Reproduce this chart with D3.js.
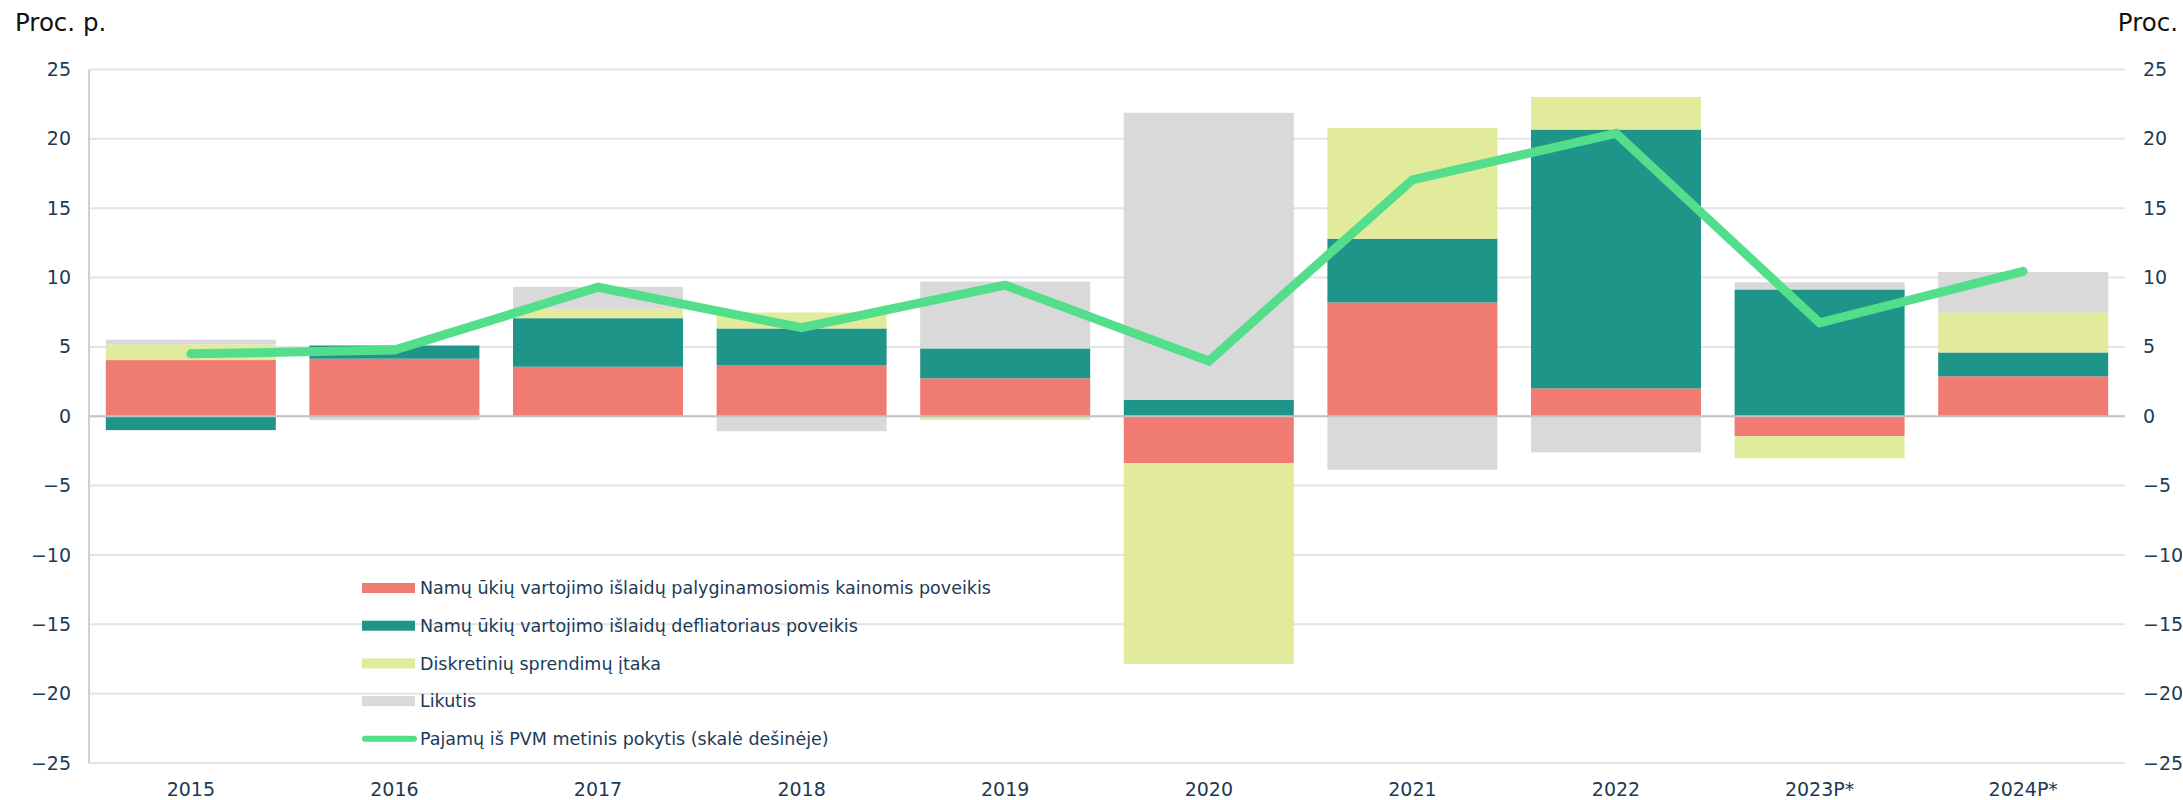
<!DOCTYPE html>
<html>
<head>
<meta charset="utf-8">
<script src="https://cdn.jsdelivr.net/npm/d3@7/dist/d3.min.js"></script>
<style>
  body { margin: 0; background: #fff; }
  text { font-family: "DejaVu Sans", Verdana, sans-serif; }
</style>
</head>
<body>
<div id="chart"></div>
<script>
// data
const years = ["2015", "2016", "2017", "2018", "2019", "2020", "2021", "2022", "2023P*", "2024P*"];
const realCons = [4.05, 4.15, 3.57, 3.69, 2.73, -3.38, 8.2, 2.01, -1.43, 2.88];
const deflator = [-1.0, 0.95, 3.5, 2.64, 2.16, 1.18, 4.6, 18.66, 9.14, 1.72];
const discretion = [1.13, 0, 0.68, 1.15, -0.26, -14.48, 7.99, 2.35, -1.6, 2.88];
const residual = [0.34, -0.27, 1.58, -1.08, 4.82, 20.7, -3.86, -2.6, 0.52, 2.92];
const vatGrowth = [4.5, 4.77, 9.3, 6.38, 9.45, 3.98, 17.05, 20.4, 6.74, 10.45];
const yTicks = [-25, -20, -15, -10, -5, 0, 5, 10, 15, 20, 25];

const seriesNames = [
  "Namų ūkių vartojimo išlaidų palyginamosiomis kainomis poveikis",
  "Namų ūkių vartojimo išlaidų defliatoriaus poveikis",
  "Diskretinių sprendimų įtaka",
  "Likutis"
];
const lineName = "Pajamų iš PVM metinis pokytis (skalė dešinėje)";
const colors = ["#f07b72", "#1f9488", "#e2eb9c", "#d9d9d9"];
const lineColor = "#52de8a";
const textColor = "#1c3a57";

const W = 2183, H = 800;
const margin = {top: 69.5, right: 58, bottom: 37, left: 89};
const width = W - margin.left - margin.right;
const height = H - margin.top - margin.bottom;

const svg = d3.select("#chart").append("svg")
  .attr("width", W)
  .attr("height", H);

const g = svg.append("g")
  .attr("transform", "translate(" + margin.left + "," + margin.top + ")");

// scales
const x = d3.scaleBand()
  .domain(years)
  .range([0, width])
  .paddingInner(0.165)
  .paddingOuter(0.0825);

const y = d3.scaleLinear().domain([-25, 25]).range([height, 0]);
const yRight = d3.scaleLinear().domain([-25, 25]).range([height, 0]);

// gridlines
g.selectAll(".grid")
  .data(yTicks)
  .enter().append("line")
  .attr("class", "grid")
  .attr("x1", 0)
  .attr("x2", width)
  .attr("y1", d => y(d))
  .attr("y2", d => y(d))
  .attr("stroke", "#e3e3e3")
  .attr("stroke-width", 2);

// stacked bars
const table = years.map((yr, i) => ({
  year: yr, s0: realCons[i], s1: deflator[i], s2: discretion[i], s3: residual[i]
}));
const stack = d3.stack()
  .keys(["s0", "s1", "s2", "s3"])
  .offset(d3.stackOffsetDiverging);
const layers = stack(table);

g.selectAll(".layer")
  .data(layers)
  .enter().append("g")
  .attr("class", "layer")
  .attr("fill", (d, i) => colors[i])
  .selectAll("rect")
  .data(d => d)
  .enter().append("rect")
  .attr("x", d => x(d.data.year))
  .attr("y", d => y(Math.max(d[0], d[1])))
  .attr("width", x.bandwidth())
  .attr("height", d => Math.abs(y(d[0]) - y(d[1])));

// zero line and left axis line
g.append("line")
  .attr("x1", 0).attr("x2", width)
  .attr("y1", y(0)).attr("y2", y(0))
  .attr("stroke", "#c4c4c4").attr("stroke-width", 2);

g.append("line")
  .attr("x1", 0).attr("x2", 0)
  .attr("y1", 0).attr("y2", height)
  .attr("stroke", "#d0d0d0").attr("stroke-width", 2);

// VAT line
const line = d3.line()
  .x((d, i) => x(years[i]) + x.bandwidth() / 2)
  .y(d => yRight(d));

g.append("path")
  .datum(vatGrowth)
  .attr("d", line)
  .attr("fill", "none")
  .attr("stroke", lineColor)
  .attr("stroke-width", 9)
  .attr("stroke-linecap", "round")
  .attr("stroke-linejoin", "miter");

// axes
const fmt = d => d < 0 ? "\u2212" + Math.abs(d) : String(d);

const yAxisLeft = d3.axisLeft(y).tickValues(yTicks).tickSize(0).tickPadding(18).tickFormat(fmt);
const yAxisRight = d3.axisRight(yRight).tickValues(yTicks).tickSize(0).tickPadding(18).tickFormat(fmt);
const xAxis = d3.axisBottom(x).tickSize(0).tickPadding(20);

g.append("g").attr("class", "axis").call(yAxisLeft);
g.append("g").attr("class", "axis")
  .attr("transform", "translate(" + width + ",0)")
  .call(yAxisRight);
g.append("g").attr("class", "axis")
  .attr("transform", "translate(0," + height + ")")
  .call(xAxis);

g.selectAll(".axis .domain").remove();
g.selectAll(".axis text")
  .attr("fill", textColor)
  .style("font-size", "19px")
  .style("font-family", "'DejaVu Sans', Verdana, sans-serif");

// axis titles
svg.append("text")
  .attr("x", 15).attr("y", 31)
  .style("font-size", "24.5px")
  .attr("fill", "#111")
  .text("Proc. p.");

svg.append("text")
  .attr("x", W - 5).attr("y", 31)
  .attr("text-anchor", "end")
  .style("font-size", "24.5px")
  .attr("fill", "#111")
  .text("Proc.");

// legend
const legend = svg.append("g").attr("transform", "translate(362,588)");
const rowH = 37.7;

seriesNames.forEach((name, i) => {
  legend.append("rect")
    .attr("x", 0).attr("y", i * rowH - 5)
    .attr("width", 53).attr("height", 10)
    .attr("fill", colors[i]);
  legend.append("text")
    .attr("x", 58).attr("y", i * rowH)
    .attr("dy", "0.35em")
    .style("font-size", "17.5px")
    .attr("fill", textColor)
    .text(name);
});

legend.append("line")
  .attr("x1", 3).attr("x2", 52)
  .attr("y1", 4 * rowH).attr("y2", 4 * rowH)
  .attr("stroke", lineColor)
  .attr("stroke-width", 6)
  .attr("stroke-linecap", "round");
legend.append("text")
  .attr("x", 58).attr("y", 4 * rowH)
  .attr("dy", "0.35em")
  .style("font-size", "17.5px")
  .attr("fill", textColor)
  .text(lineName);
</script>
</body>
</html>
